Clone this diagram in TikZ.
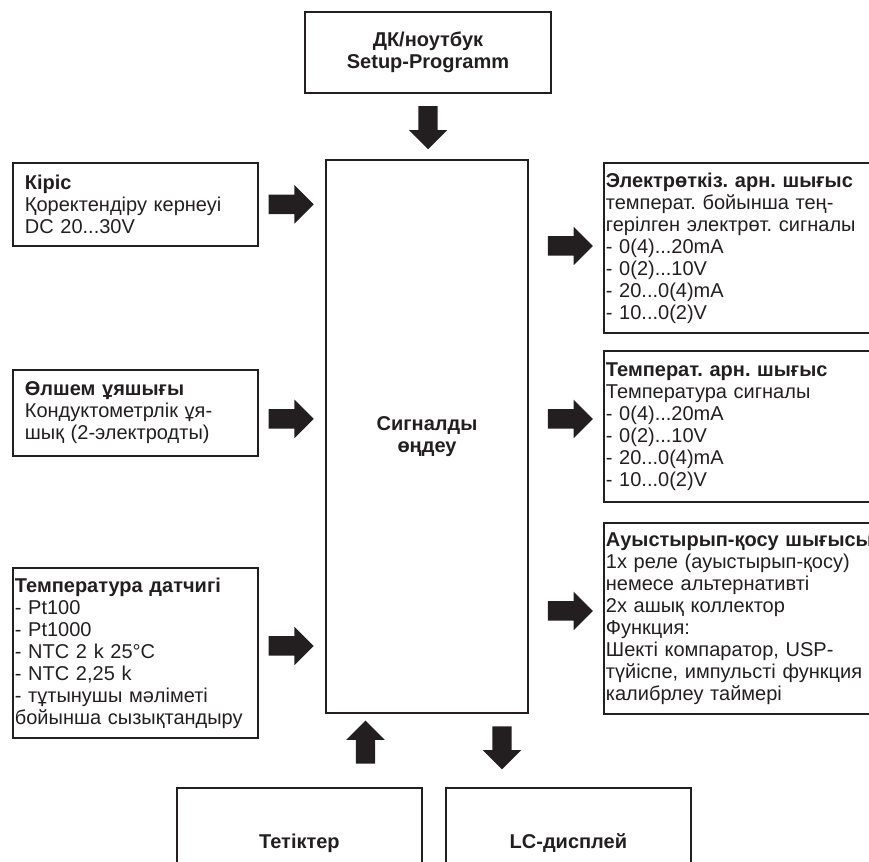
\documentclass[tikz,border=0pt]{standalone}
\usepackage{fontspec}
\setmainfont{Liberation Sans}
\usepackage{tikz}
\usetikzlibrary{shapes.arrows}

\definecolor{inkblack}{RGB}{35,31,32}
\newcommand{\diagfont}{\fontsize{20}{22}\selectfont\frenchspacing}

\tikzset{
    box/.style={draw=inkblack, line width=1.8pt, text=inkblack, inner ysep=0pt, font=\diagfont},
    side_box/.style={box, anchor=north west, align=left},
    fat_arrow/.style={single arrow, fill=inkblack, inner sep=9.5pt, minimum height=45pt, minimum width=38pt, single arrow head extend=9.5pt}
}

\begin{document}
\begin{tikzpicture}[x=1pt, y=-1pt]
    \clip (0,0) rectangle (869,861);

    \node [box, font=\diagfont\bfseries, align=center, minimum width=246pt, minimum height=81pt] (setup) at (428,52.5) {ДК/ноутбук\\Setup-Programm};

    \node [box, font=\diagfont\bfseries, align=center, minimum width=202pt, minimum height=553pt] (proc) at (427,436.5) {Сигналды\\өңдеу};

    \node [side_box, text width=221pt, inner xsep=12pt, minimum height=83pt] (kiris) at (12,162)
        {\textbf{Кіріс}\\Қоректендіру кернеуі\\DC 20...30V};
    \node [side_box, text width=221pt, inner xsep=12pt, minimum height=86pt] (olshem) at (12,369)
        {\textbf{Өлшем ұяшығы}\\Кондуктометрлік ұя-\\шық (2-электродты)};
    \node [side_box, text width=241pt, inner xsep=2pt, minimum height=170pt] (temp_sens) at (12,567)
        {\textbf{Температура датчигі}\\- Pt100\\- Pt1000\\- NTC 2 k 25°C\\- NTC 2,25 k\\- тұтынушы мәліметі\\бойынша сызықтандыру};

    \node [side_box, text width=330pt, inner xsep=2pt, minimum height=170pt] (out_cond) at (603,162)
        {\textbf{Электрөткіз. арн. шығыс}\\температ. бойынша тең-\\герілген электрөт. сигналы\\- 0(4)...20mA\\- 0(2)...10V\\- 20...0(4)mA\\- 10...0(2)V};
    \node [side_box, text width=330pt, inner xsep=2pt, minimum height=151pt] (out_temp) at (603,350)
        {\textbf{Температ. арн. шығыс}\\Температура сигналы\\- 0(4)...20mA\\- 0(2)...10V\\- 20...0(4)mA\\- 10...0(2)V};
    \node [side_box, text width=330pt, inner xsep=2pt, minimum height=191pt] (out_switch) at (603,522)
        {\textbf{Ауыстырып-қосу шығысы}\\1x реле (ауыстырып-қосу)\\немесе альтернативті\\2x ашық коллектор\\Функция:\\Шекті компаратор, USP-\\түйіспе, импульсті функция\\калибрлеу таймері};

    \node [box, font=\diagfont\bfseries, anchor=north west, minimum width=245pt, minimum height=110pt] (keys) at (176,787) {Тетіктер};
    \node [box, font=\diagfont\bfseries, anchor=north west, minimum width=245pt, minimum height=110pt] (lcd) at (445,787) {LC-дисплей};

    \node [fat_arrow, shape border rotate=270, minimum height=43pt] (arr_setup) at ([shift={(0,29)}]setup.south) {};
    \node [fat_arrow] (arr_kiris) at ([shift={(27.5,0)}]kiris.east) {};
    \node [fat_arrow] (arr_olshem) at ([shift={(27.5,6)}]olshem.east) {};
    \node [fat_arrow] (arr_temp_sens) at ([shift={(27.5,-7)}]temp_sens.east) {};
    \node [fat_arrow] (arr_out_cond) at ([shift={(-37.5,-2)}]out_cond.west) {};
    \node [fat_arrow] (arr_out_temp) at ([shift={(-37.5,-7.5)}]out_temp.west) {};
    \node [fat_arrow] (arr_out_switch) at ([shift={(-37.5,-7.5)}]out_switch.west) {};
    \node [fat_arrow, shape border rotate=90, minimum height=43pt] (arr_keys) at ([shift={(-61.5,33)}]proc.south) {};
    \node [fat_arrow, shape border rotate=270, minimum height=43pt] (arr_lcd) at ([shift={(75,29)}]proc.south) {};

\end{tikzpicture}
\end{document}
